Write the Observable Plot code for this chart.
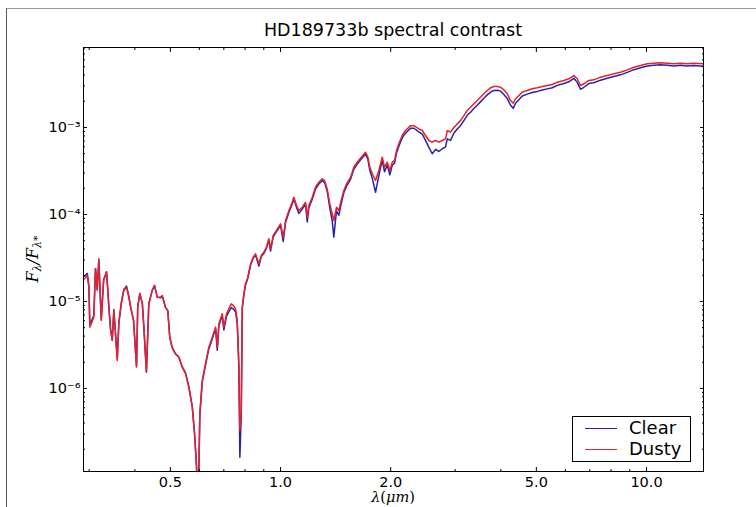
<!DOCTYPE html>
<html>
<head>
<meta charset="utf-8">
<script src="https://cdn.jsdelivr.net/npm/d3@7"></script>
<script src="https://cdn.jsdelivr.net/npm/@observablehq/plot@0.6"></script>
<style>
html, body { margin: 0; padding: 0; background: #fff; width: 756px; height: 507px; overflow: hidden; }
#wrap { position: relative; width: 756px; height: 507px; font-family: "DejaVu Sans", sans-serif; color: #000; }
#border { position: absolute; left: 6px; top: 8px; width: 800px; height: 600px; border-top: 1px solid #9a9a9a; border-left: 1px solid #555; }
#chart { position: absolute; left: 0; top: 0; }
#title { position: absolute; left: 83px; width: 620px; top: 19px; text-align: center; font-size: 17.5px; line-height: 22px; }
#ylab { position: absolute; left: 33px; top: 259px; transform: translate(-50%, -50%) rotate(-90deg); font-family: "DejaVu Serif", serif; font-style: italic; font-size: 16px; white-space: nowrap; }
#ylab sub { font-size: 11px; vertical-align: -3px; }
#xlab { position: absolute; left: 393px; top: 489px; transform: translateX(-50%); font-family: "DejaVu Serif", serif; font-size: 14.5px; line-height: 17px; white-space: nowrap; }
#xlab i { font-style: italic; }
#legend { position: absolute; left: 572px; top: 416px; width: 117px; height: 44px; border: 1px solid #000; background: #fff; }
.lline { position: absolute; left: 12px; width: 32px; height: 0; border-top: 1px solid; }
.ltext { position: absolute; left: 56px; font-size: 18px; line-height: 20px; }
</style>
</head>
<body>
<div id="wrap">
  <div id="border"></div>
  <div id="chart"></div>
  <div id="title">HD189733b spectral contrast</div>
  <div id="ylab">F<sub>λ</sub>/F<sub>λ*</sub></div>
  <div id="xlab"><i>λ</i>(<i>μ</i><i>m</i>)</div>
  <div id="legend">
    <div class="lline" id="l1" style="top:11px"></div><div class="ltext" style="top:1px">Clear</div>
    <div class="lline" id="l2" style="top:32px"></div><div class="ltext" style="top:22px">Dusty</div>
  </div>
</div>
<script>
// wavelength in micron
const wavelength = [
  0.2915, 0.2965, 0.2995, 0.3013, 0.3089, 0.3122, 0.3156, 0.3188, 0.3237, 0.3286,
  0.3347, 0.3396, 0.3433, 0.3469, 0.3504, 0.3580, 0.3616, 0.3671, 0.3730, 0.3795,
  0.3851, 0.3893, 0.3966, 0.4041, 0.4072, 0.4126, 0.4192, 0.4232, 0.4301, 0.4366,
  0.4461, 0.4526, 0.4603, 0.4700, 0.4752, 0.4850, 0.4920, 0.4981, 0.5051, 0.5163,
  0.5273, 0.5387, 0.5502, 0.5618, 0.5739, 0.5822, 0.5896, 0.5926, 0.5981, 0.6019,
  0.6112, 0.6239, 0.6369, 0.6508, 0.6646, 0.6717, 0.6784, 0.6930, 0.7000, 0.7121,
  0.7222, 0.7335, 0.7428, 0.7535, 0.7615, 0.7693, 0.7742, 0.7810, 0.7860, 0.7940,
  0.8023, 0.8141, 0.8283, 0.8423, 0.8540, 0.8725, 0.8857, 0.9003, 0.9155, 0.9290,
  0.9390, 0.9551, 0.9751, 1.000, 1.017, 1.032, 1.054, 1.076, 1.087, 1.106,
  1.122, 1.146, 1.170, 1.183, 1.195, 1.221, 1.246, 1.272, 1.300, 1.319,
  1.341, 1.363, 1.384, 1.398, 1.422, 1.443, 1.465, 1.489, 1.515, 1.554,
  1.586, 1.620, 1.662, 1.707, 1.732, 1.754, 1.781, 1.818, 1.856, 1.896,
  1.924, 1.957, 1.989, 2.020, 2.049, 2.075, 2.105, 2.150, 2.195, 2.266,
  2.313, 2.387, 2.439, 2.490, 2.543, 2.597, 2.652, 2.707, 2.765, 2.824,
  2.855, 2.914, 2.975, 3.039, 3.103, 3.169, 3.237, 3.305, 3.375, 3.447,
  3.518, 3.594, 3.671, 3.749, 3.827, 3.910, 3.992, 4.075, 4.164, 4.250,
  4.323, 4.386, 4.478, 4.575, 4.721, 4.873, 5.028, 5.188, 5.355, 5.526,
  5.702, 5.943, 6.133, 6.329, 6.466, 6.601, 6.740, 6.955, 7.178, 7.487,
  7.809, 8.140, 8.492, 8.858, 9.233, 9.630, 10.04, 10.47, 10.92, 11.39,
  11.87, 12.39, 12.92, 13.47, 14.31
];

// planet/star flux ratio, dusty model
const dusty = [
  1.82e-5, 1.99e-5, 1.46e-5, 5.07e-6, 6.6e-6, 2.38e-5, 1.34e-5, 3.1e-5, 6.05e-6, 1.74e-5,
  2.17e-5, 8.6e-6, 4.64e-6, 3.56e-6, 7.88e-6, 2.1e-6, 5.54e-6, 9.4e-6, 1.34e-5, 1.46e-5,
  1.12e-5, 8.6e-6, 6.05e-6, 1.76e-6, 8.6e-6, 1.23e-5, 9.4e-6, 5.07e-6, 1.54e-6, 9.4e-6,
  1.34e-5, 1.53e-5, 1.12e-5, 1.12e-5, 1.17e-5, 8.6e-6, 7.88e-6, 3.89e-6, 2.98e-6, 2.5e-6,
  2.29e-6, 1.76e-6, 1.48e-6, 1.03e-6, 6.1e-7, 3.01e-7, 1.25e-7, 5e-8, 1.14e-7, 5.16e-7,
  1.24e-6, 1.94e-6, 2.98e-6, 3.89e-6, 5.07e-6, 2.98e-6, 5.54e-6, 7.22e-6, 5.07e-6, 7.22e-6,
  8.24e-6, 9.4e-6, 9.0e-6, 8.24e-6, 6.05e-6, 1.92e-6, 3.29e-7, 5.16e-7, 8.6e-6, 1.23e-5,
  1.6e-5, 1.9e-5, 2.71e-5, 3.23e-5, 3.53e-5, 2.71e-5, 3.38e-5, 3.69e-5, 4.21e-5, 5.26e-5,
  4.04e-5, 5.74e-5, 6.55e-5, 7.82e-5, 5.48e-5, 8.53e-5, 1.11e-4, 1.38e-4, 1.58e-4, 1.27e-4,
  1.11e-4, 1.21e-4, 1.38e-4, 9.3e-5, 1.27e-4, 1.58e-4, 2.06e-4, 2.35e-4, 2.57e-4, 2.46e-4,
  1.97e-4, 1.33e-4, 1.02e-4, 8.53e-5, 1.21e-4, 1.11e-4, 1.45e-4, 1.89e-4, 2.25e-4, 2.68e-4,
  3.5e-4, 3.99e-4, 4.56e-4, 5.2e-4, 4.56e-4, 3.5e-4, 2.94e-4, 2.46e-4, 3.2e-4, 4.56e-4,
  3.5e-4, 3.99e-4, 3.2e-4, 3.99e-4, 4.18e-4, 5.44e-4, 6.5e-4, 8.09e-4, 9.24e-4, 1.05e-3,
  1.05e-3, 9.66e-4, 9.24e-4, 8.09e-4, 7.09e-4, 6.78e-4, 7.09e-4, 6.78e-4, 7.09e-4, 7.41e-4,
  9.24e-4, 8.83e-4, 1.0e-3, 1.1e-3, 1.2e-3, 1.37e-3, 1.57e-3, 1.71e-3, 1.87e-3, 2.04e-3,
  2.23e-3, 2.44e-3, 2.66e-3, 2.86e-3, 2.96e-3, 2.96e-3, 2.9e-3, 2.71e-3, 2.44e-3, 2.04e-3,
  1.9e-3, 2.14e-3, 2.33e-3, 2.55e-3, 2.66e-3, 2.79e-3, 2.86e-3, 2.96e-3, 3.04e-3, 3.12e-3,
  3.32e-3, 3.47e-3, 3.63e-3, 3.96e-3, 3.63e-3, 3.04e-3, 3.18e-3, 3.47e-3, 3.53e-3, 3.79e-3,
  3.96e-3, 4.14e-3, 4.32e-3, 4.6e-3, 4.93e-3, 5.16e-3, 5.4e-3, 5.48e-3, 5.55e-3, 5.48e-3,
  5.4e-3, 5.48e-3, 5.4e-3, 5.48e-3, 5.4e-3
];

// planet/star flux ratio, clear model
const clear = [
  1.95e-5, 2.1e-5, 1.5e-5, 5.4e-6, 6.9e-6, 2.4e-5, 1.38e-5, 3.0e-5, 6.3e-6, 1.78e-5,
  2.2e-5, 8.8e-6, 4.8e-6, 3.6e-6, 8.1e-6, 2.2e-6, 5.7e-6, 9.6e-6, 1.37e-5, 1.5e-5,
  1.14e-5, 8.7e-6, 6.1e-6, 1.8e-6, 8.7e-6, 1.24e-5, 9.5e-6, 5.1e-6, 1.56e-6, 9.4e-6,
  1.34e-5, 1.52e-5, 1.12e-5, 1.1e-5, 1.15e-5, 8.5e-6, 7.8e-6, 3.9e-6, 3.0e-6, 2.5e-6,
  2.3e-6, 1.78e-6, 1.5e-6, 1.05e-6, 6.2e-7, 3.05e-7, 1.27e-7, 5e-8, 1.14e-7, 5.0e-7,
  1.2e-6, 1.86e-6, 2.85e-6, 3.73e-6, 4.85e-6, 2.75e-6, 5.3e-6, 6.9e-6, 4.7e-6, 6.8e-6,
  7.6e-6, 8.5e-6, 8.2e-6, 7.6e-6, 5.6e-6, 1.8e-6, 1.62e-7, 5.0e-7, 8.3e-6, 1.19e-5,
  1.55e-5, 1.85e-5, 2.63e-5, 3.15e-5, 3.44e-5, 2.55e-5, 3.28e-5, 3.58e-5, 4.1e-5, 5.1e-5,
  3.8e-5, 5.55e-5, 6.35e-5, 7.5e-5, 4.9e-5, 8.1e-5, 1.06e-4, 1.32e-4, 1.52e-4, 1.2e-4,
  1.03e-4, 1.15e-4, 1.31e-4, 8.2e-5, 1.2e-4, 1.5e-4, 1.96e-4, 2.24e-4, 2.45e-4, 2.34e-4,
  1.85e-4, 1.2e-4, 8.5e-5, 5.48e-5, 1.1e-4, 9.8e-5, 1.33e-4, 1.78e-4, 2.12e-4, 2.55e-4,
  3.3e-4, 3.8e-4, 4.35e-4, 5.0e-4, 4.3e-4, 3.2e-4, 2.6e-4, 1.8e-4, 2.8e-4, 4.2e-4,
  3.1e-4, 3.7e-4, 2.85e-4, 3.7e-4, 3.9e-4, 5.1e-4, 6.1e-4, 7.6e-4, 8.6e-4, 9.8e-4,
  9.8e-4, 8.9e-4, 8.4e-4, 7.1e-4, 5.9e-4, 4.99e-4, 5.6e-4, 5.3e-4, 5.7e-4, 6.0e-4,
  7.4e-4, 7.1e-4, 8.6e-4, 9.6e-4, 1.05e-3, 1.2e-3, 1.38e-3, 1.5e-3, 1.65e-3, 1.8e-3,
  1.97e-3, 2.17e-3, 2.37e-3, 2.55e-3, 2.66e-3, 2.68e-3, 2.62e-3, 2.4e-3, 2.15e-3, 1.8e-3,
  1.66e-3, 1.9e-3, 2.08e-3, 2.3e-3, 2.42e-3, 2.53e-3, 2.6e-3, 2.7e-3, 2.78e-3, 2.86e-3,
  3.05e-3, 3.2e-3, 3.35e-3, 3.68e-3, 3.3e-3, 2.75e-3, 2.9e-3, 3.2e-3, 3.27e-3, 3.5e-3,
  3.68e-3, 3.85e-3, 4.03e-3, 4.3e-3, 4.62e-3, 4.85e-3, 5.1e-3, 5.2e-3, 5.25e-3, 5.2e-3,
  5.1e-3, 5.18e-3, 5.1e-3, 5.15e-3, 5.05e-3
];

const seriesNames = ["Clear", "Dusty"];
const seriesColors = ["#2424a8", "#e8202a"];

const xMajorTicks = [0.5, 1, 2, 5, 10];
const xTickLabels = ["0.5", "1.0", "2.0", "5.0", "10.0"];
const xMinorTicks = [0.3, 0.4, 0.6, 0.7, 0.8, 0.9, 3, 4, 6, 7, 8, 9];
const yMajorTicks = [1e-6, 1e-5, 1e-4, 1e-3];
const xDomain = [0.2895, 14.31];
const yDomain = [1.11e-7, 8.31e-3];

const yMinorTicks = [];
for (let e = -7; e <= -3; e++) {
  for (let k = 2; k <= 9; k++) {
    const v = k * Math.pow(10, e);
    if (v >= yDomain[0] && v <= yDomain[1]) yMinorTicks.push(v);
  }
}

const supMap = {"-": "\u207B", "0": "\u2070", "1": "\u00B9", "2": "\u00B2", "3": "\u00B3", "4": "\u2074", "5": "\u2075", "6": "\u2076", "7": "\u2077", "8": "\u2078", "9": "\u2079"};
const powFmt = d => "10" + String(Math.round(Math.log10(d))).split("").map(c => supMap[c]).join("");

const clearRows = wavelength.map((w, i) => ({wavelength: w, contrast: clear[i], series: seriesNames[0]}));
const dustyRows = wavelength.map((w, i) => ({wavelength: w, contrast: dusty[i], series: seriesNames[1]}));
const xLabelRows = xMajorTicks.map((v, i) => ({v, label: xTickLabels[i]}));

const blank = () => "";
const fs = 14.5;

const chart = Plot.plot({
  width: 756,
  height: 507,
  marginLeft: 83,
  marginRight: 53,
  marginTop: 47,
  marginBottom: 36,
  x: {type: "log", domain: xDomain, axis: null},
  y: {type: "log", domain: yDomain, axis: null},
  style: {fontFamily: "'DejaVu Sans', sans-serif", fontSize: fs + "px", color: "#000", background: "transparent", overflow: "visible"},
  marks: [
    Plot.line(clearRows, {x: "wavelength", y: "contrast", stroke: seriesColors[0], strokeWidth: 1.5, clip: true}),
    Plot.line(dustyRows, {x: "wavelength", y: "contrast", stroke: seriesColors[1], strokeWidth: 1.5, clip: true}),
    // inward ticks, all four sides
    Plot.axisX(xMajorTicks, {anchor: "bottom", tickSize: -4, tickFormat: blank, label: null}),
    Plot.axisX(xMajorTicks, {anchor: "top", tickSize: -4, tickFormat: blank, label: null}),
    Plot.axisX(xMinorTicks, {anchor: "bottom", tickSize: -2, tickFormat: blank, label: null}),
    Plot.axisX(xMinorTicks, {anchor: "top", tickSize: -2, tickFormat: blank, label: null}),
    Plot.axisY(yMajorTicks, {anchor: "left", tickSize: -4, tickFormat: blank, label: null}),
    Plot.axisY(yMajorTicks, {anchor: "right", tickSize: -4, tickFormat: blank, label: null}),
    Plot.axisY(yMinorTicks, {anchor: "left", tickSize: -2, tickFormat: blank, label: null}),
    Plot.axisY(yMinorTicks, {anchor: "right", tickSize: -2, tickFormat: blank, label: null}),
    // tick labels
    Plot.text(xLabelRows, {x: "v", text: "label", frameAnchor: "bottom", lineAnchor: "top", dy: 5, fontSize: fs, fill: "#000"}),
    Plot.axisY(yMajorTicks, {anchor: "left", tickSize: 0, tickPadding: 3, tickFormat: powFmt, fontSize: fs, label: null}),
    Plot.frame({stroke: "#000", strokeWidth: 1})
  ]
});
document.getElementById("chart").appendChild(chart);
document.getElementById("l1").style.borderTopColor = seriesColors[0];
document.getElementById("l2").style.borderTopColor = seriesColors[1];
</script>
</body>
</html>
